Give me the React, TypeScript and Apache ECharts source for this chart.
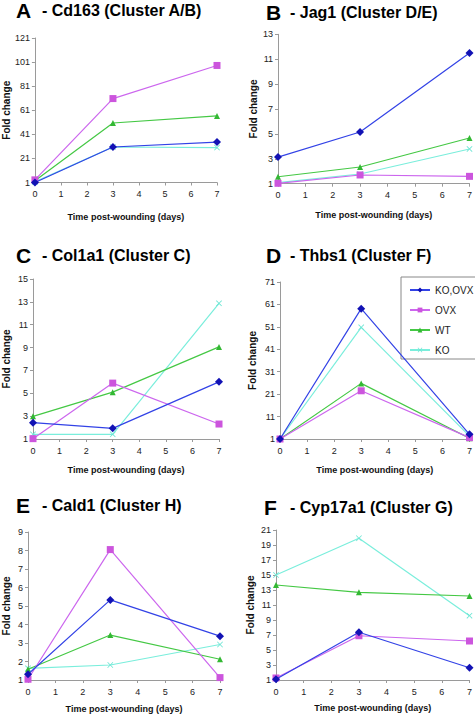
import React, { useEffect, useRef } from "react";
import * as echarts from "echarts";

// ---- data ----
const days = [0, 3, 7];
const dayTicks = [0, 1, 2, 3, 4, 5, 6, 7];
const seriesNames = ["KO,OVX", "OVX", "WT", "KO"];

const cd163KoOvx = [1.0, 30.5, 34.6];
const cd163Ovx = [3.2, 70.7, 98.2];
const cd163Wt = [2.4, 50.4, 56.3];
const cd163Ko = [1.5, 30.5, 30.0];
const cd163Ticks = [1, 21, 41, 61, 81, 101, 121];

const jag1KoOvx = [3.14, 5.15, 11.5];
const jag1Ovx = [1.03, 1.7, 1.59];
const jag1Wt = [1.56, 2.34, 4.67];
const jag1Ko = [1.08, 1.78, 3.79];
const jag1Ticks = [1, 3, 5, 7, 9, 11, 13];

const col1a1KoOvx = [2.43, 1.93, 6.0];
const col1a1Ovx = [1.03, 5.89, 2.31];
const col1a1Wt = [2.98, 5.1, 9.06];
const col1a1Ko = [1.41, 1.41, 12.87];
const col1a1Ticks = [1, 3, 5, 7, 9, 11, 13, 15];

const thbs1KoOvx = [1.0, 59.1, 3.1];
const thbs1Ovx = [1.0, 22.5, 1.6];
const thbs1Wt = [1.0, 25.8, 1.3];
const thbs1Ko = [1.0, 50.8, 2.3];
const thbs1Ticks = [1, 11, 21, 31, 41, 51, 61, 71];

const cald1KoOvx = [1.31, 5.33, 3.37];
const cald1Ovx = [1.04, 8.05, 1.13];
const cald1Wt = [1.58, 3.43, 2.12];
const cald1Ko = [1.63, 1.81, 2.92];
const cald1Ticks = [1, 2, 3, 4, 5, 6, 7, 8, 9];

const cyp17a1KoOvx = [1.09, 7.36, 2.64];
const cyp17a1Ovx = [1.27, 6.9, 6.2];
const cyp17a1Wt = [13.67, 12.69, 12.2];
const cyp17a1Ko = [15.0, 19.9, 9.58];
const cyp17a1Ticks = [1, 3, 5, 7, 9, 11, 13, 15, 17, 19, 21];

const panelLetters = ["A", "B", "C", "D", "E", "F"];
const panelTitles = [
  "- Cd163 (Cluster A/B)",
  "- Jag1 (Cluster D/E)",
  "- Col1a1 (Cluster C)",
  "- Thbs1 (Cluster F)",
  "- Cald1 (Cluster H)",
  "- Cyp17a1 (Cluster G)",
];
const panelData = [
  [cd163KoOvx, cd163Ovx, cd163Wt, cd163Ko],
  [jag1KoOvx, jag1Ovx, jag1Wt, jag1Ko],
  [col1a1KoOvx, col1a1Ovx, col1a1Wt, col1a1Ko],
  [thbs1KoOvx, thbs1Ovx, thbs1Wt, thbs1Ko],
  [cald1KoOvx, cald1Ovx, cald1Wt, cald1Ko],
  [cyp17a1KoOvx, cyp17a1Ovx, cyp17a1Wt, cyp17a1Ko],
];
const panelTicks = [cd163Ticks, jag1Ticks, col1a1Ticks, thbs1Ticks, cald1Ticks, cyp17a1Ticks];
const xTitle = "Time post-wounding (days)";
const yTitle = "Fold change";

// ---- layout / style ----
const layouts = [
  { l: 33, r: 217, t: 38, b: 182.5, lx: 16, tx: 42, ty: 10.5, xg: 30, yg: 21.5 },
  { l: 278, r: 471, t: 34.3, b: 183.7, lx: 266, tx: 290, ty: 12.5, xg: 27, yg: 19.5 },
  { l: 33, r: 219, t: 279, b: 439, lx: 16, tx: 42, ty: 256, xg: 26.5, yg: 21.5 },
  { l: 280, r: 470, t: 282, b: 439, lx: 266, tx: 290, ty: 256, xg: 26.5, yg: 23 },
  { l: 26, r: 220, t: 532, b: 680, lx: 16, tx: 42, ty: 506.3, xg: 24.5, yg: 17 },
  { l: 276, r: 472, t: 530, b: 680, lx: 264, tx: 290, ty: 507.8, xg: 23.5, yg: 21 },
];
const FONT = '"Liberation Sans", Arial, Helvetica, sans-serif';
const styles = [
  { line: "#3242E6", marker: "#1212B4", symbol: "diamond", size: 8 },
  { line: "#CC66EE", marker: "#CC55DD", symbol: "rect", size: 7 },
  { line: "#44C844", marker: "#33B833", symbol: "triangle", size: 6 },
  {
    line: "#7AEEDC",
    marker: "#6EE6D4",
    symbol: "path://M0,1L1,0L5,4L9,0L10,1L6,5L10,9L9,10L5,6L1,10L0,9L4,5Z",
    size: 6,
  },
];
const AXIS = "#9a9a9a";

function buildOption() {
  const grid: any[] = [];
  const xAxis: any[] = [];
  const yAxis: any[] = [];
  const series: any[] = [];
  const graphic: any[] = [];

  layouts.forEach((L, p) => {
    grid.push({ left: L.l, top: L.t, width: L.r - L.l, height: L.b - L.t, containLabel: false });
    xAxis.push({
      type: "value",
      gridIndex: p,
      min: dayTicks[0],
      max: dayTicks[dayTicks.length - 1],
      interval: 1,
      name: xTitle,
      nameLocation: "middle",
      nameGap: L.xg,
      nameTextStyle: { fontFamily: FONT, fontWeight: "bold", fontSize: 9, color: "#111" },
      axisLine: { show: true, onZero: false, lineStyle: { color: AXIS, width: 1 } },
      axisTick: { show: true, length: 3, lineStyle: { color: AXIS } },
      axisLabel: { fontFamily: FONT, fontSize: 9, color: "#222", margin: 7 },
      splitLine: { show: false },
    });
    const ticks = panelTicks[p];
    yAxis.push({
      type: "value",
      gridIndex: p,
      min: ticks[0],
      max: ticks[ticks.length - 1],
      name: yTitle,
      nameLocation: "middle",
      nameGap: L.yg,
      nameTextStyle: { fontFamily: FONT, fontWeight: "bold", fontSize: 10, color: "#111" },
      axisLine: { show: true, onZero: false, lineStyle: { color: AXIS, width: 1 } },
      axisTick: { show: true, length: 3, lineStyle: { color: AXIS }, customValues: ticks },
      axisLabel: { fontFamily: FONT, fontSize: 9, color: "#222", margin: 5, customValues: ticks },
      splitLine: { show: false },
    });
    panelData[p].forEach((vals, s) => {
      const st = styles[s];
      series.push({
        type: "line",
        name: seriesNames[s],
        xAxisIndex: p,
        yAxisIndex: p,
        data: days.map((d, i) => [d, vals[i]]),
        symbol: st.symbol,
        symbolSize: st.size,
        showSymbol: true,
        clip: false,
        z: 10 - s,
        lineStyle: { color: st.line, width: 1.2 },
        itemStyle: { color: st.marker },
        emphasis: { disabled: true },
      });
    });
    graphic.push({
      type: "text",
      left: L.lx,
      top: L.ty - 11,
      style: {
        text: panelLetters[p],
        fontFamily: FONT,
        fontWeight: "bold",
        fontSize: 21,
        fill: "#000",
      },
    });
    graphic.push({
      type: "text",
      left: L.tx,
      top: L.ty - 8.5,
      style: {
        text: panelTitles[p],
        fontFamily: FONT,
        fontWeight: "bold",
        fontSize: 16,
        fill: "#000",
      },
    });
  });

  return {
    animation: false,
    backgroundColor: "#fff",
    grid,
    xAxis,
    yAxis,
    series,
    graphic,
    legend: {
      data: seriesNames,
      orient: "vertical",
      left: 401,
      top: 277,
      padding: [8, 8, 4, 8],
      itemGap: 10,
      itemWidth: 20,
      itemHeight: 6,
      borderColor: "#888",
      borderWidth: 1,
      backgroundColor: "#fff",
      textStyle: { fontFamily: FONT, fontSize: 10, color: "#222" },
      selectedMode: false,
    },
  };
}

export default function App() {
  const ref = useRef<HTMLDivElement>(null);
  useEffect(() => {
    if (!ref.current) return;
    const chart = echarts.init(ref.current, null, { renderer: "svg" });
    chart.setOption(buildOption() as any);
    return () => chart.dispose();
  }, []);
  return (
    <div
      ref={ref}
      style={{ position: "fixed", left: 0, top: 0, width: 475, height: 715, background: "#fff" }}
    />
  );
}
